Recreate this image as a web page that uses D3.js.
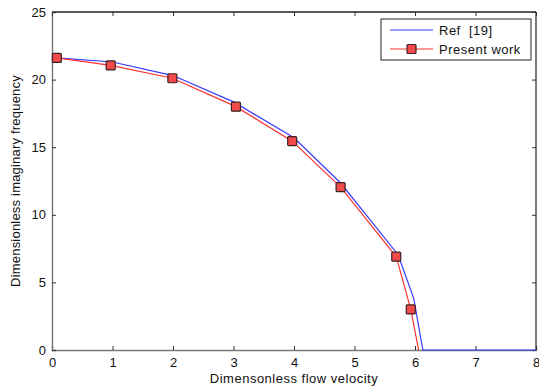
<!DOCTYPE html>
<html>
<head>
<meta charset="utf-8">
<script src="https://cdn.jsdelivr.net/npm/d3@7"></script>
<style>
  body { margin: 0; background: #fff; }
  svg { display: block; font-family: "Liberation Sans", Arial, sans-serif; }
</style>
</head>
<body>
<svg id="chart" width="539" height="389"></svg>
<script>
// Reference curve [19]
const refX = [0.08, 1.0, 2.0, 3.0, 4.0, 4.77, 5.72, 5.98, 6.13, 8.0];
const refY = [21.6, 21.3, 20.3, 18.35, 15.7, 12.35, 7.05, 3.8, 0, 0];

// Present work
const presX = [0.08, 0.97, 1.99, 3.04, 3.97, 4.77, 5.69, 5.93, 6.06];
const presY = [21.6, 21.05, 20.1, 18.0, 15.45, 12.05, 6.9, 3.0, 0];
const presMarked = 8; // markers on the computed points only

const xTicks = [0, 1, 2, 3, 4, 5, 6, 7, 8];
const yTicks = [0, 5, 10, 15, 20, 25];

const svg = d3.select("#chart");
const plotL = 52, plotR = 536, plotT = 12, plotB = 350;
const fs = 13, ls = 0.5;

const x = d3.scaleLinear().domain([0, 8]).range([plotL, plotR]);
const y = d3.scaleLinear().domain([0, 25]).range([plotB, plotT]);

const tickLen = 4;

// Box: top and right borders
svg.append("line").attr("x1", plotL).attr("x2", plotR).attr("y1", plotT).attr("y2", plotT)
  .attr("stroke", "#222").attr("stroke-width", 1.6);
svg.append("line").attr("x1", plotR).attr("x2", plotR).attr("y1", plotT).attr("y2", plotB)
  .attr("stroke", "#222").attr("stroke-width", 1.2);

// Bottom axis (ticks point inward)
const xAxis = d3.axisBottom(x).tickValues(xTicks).tickSize(-tickLen).tickPadding(8).tickFormat(d3.format("d"));
const gx = svg.append("g").attr("transform", `translate(0,${plotB})`).call(xAxis);
gx.select(".domain").attr("stroke", "#777").attr("stroke-width", 1.4);
gx.selectAll(".tick line").attr("stroke", "#333");
gx.selectAll("text").attr("font-size", fs).attr("fill", "#111");

// Left axis
const yAxis = d3.axisLeft(y).tickValues(yTicks).tickSize(-tickLen).tickPadding(6);
const gy = svg.append("g").attr("transform", `translate(${plotL},0)`).call(yAxis);
gy.select(".domain").attr("stroke", "#777").attr("stroke-width", 1.4);
gy.selectAll(".tick line").attr("stroke", "#333");
gy.selectAll("text").attr("font-size", fs).attr("fill", "#111");

// Top and right ticks (inward)
const gt = svg.append("g").attr("transform", `translate(0,${plotT})`)
  .call(d3.axisTop(x).tickValues(xTicks).tickSize(-tickLen).tickFormat(""));
gt.select(".domain").remove();
gt.selectAll(".tick line").attr("stroke", "#333");
const gr = svg.append("g").attr("transform", `translate(${plotR},0)`)
  .call(d3.axisRight(y).tickValues(yTicks).tickSize(-tickLen).tickFormat(""));
gr.select(".domain").remove();
gr.selectAll(".tick line").attr("stroke", "#333");

// Axis titles
svg.append("text").attr("x", (plotL + plotR) / 2).attr("y", 383)
  .attr("text-anchor", "middle").attr("font-size", fs).attr("letter-spacing", ls).attr("fill", "#111")
  .text("Dimensonless flow velocity");
svg.append("text")
  .attr("transform", `translate(20,${(plotT + plotB) / 2}) rotate(-90)`)
  .attr("text-anchor", "middle").attr("font-size", fs).attr("letter-spacing", 0.2).attr("fill", "#111")
  .text("Dimensionless imaginary frequency");

const line = d3.line().x(d => x(d[0])).y(d => y(d[1]));
const refData = refX.map((v, i) => [v, refY[i]]);
const presData = presX.map((v, i) => [v, presY[i]]);

svg.append("path").datum(refData).attr("d", line)
  .attr("fill", "none").attr("stroke", "#3a3aff").attr("stroke-width", 1.2);
svg.append("path").datum(presData).attr("d", line)
  .attr("fill", "none").attr("stroke", "#ff3030").attr("stroke-width", 1.2);

const ms = 9;
svg.append("g").selectAll("rect").data(presData.slice(0, presMarked)).join("rect")
  .attr("x", d => x(d[0]) - ms / 2).attr("y", d => y(d[1]) - ms / 2)
  .attr("width", ms).attr("height", ms).attr("rx", 1)
  .attr("fill", "#f24a4a").attr("stroke", "#3a2020").attr("stroke-width", 1.2);

// Legend
const lg = svg.append("g");
lg.append("rect").attr("x", 381).attr("y", 19).attr("width", 150).attr("height", 41)
  .attr("fill", "#fff").attr("stroke", "#222").attr("stroke-width", 1);
lg.append("line").attr("x1", 390).attr("x2", 433).attr("y1", 30).attr("y2", 30)
  .attr("stroke", "#3a3aff").attr("stroke-width", 1.2);
lg.append("line").attr("x1", 390).attr("x2", 433).attr("y1", 49).attr("y2", 49)
  .attr("stroke", "#ff3030").attr("stroke-width", 1.2);
lg.append("rect").attr("x", 411.5 - ms / 2).attr("y", 49 - ms / 2).attr("width", ms).attr("height", ms)
  .attr("rx", 1).attr("fill", "#f24a4a").attr("stroke", "#3a2020").attr("stroke-width", 1.2);
lg.append("text").attr("x", 439).attr("y", 35).attr("font-size", fs).attr("letter-spacing", ls).attr("fill", "#111")
  .attr("xml:space", "preserve").text("Ref  [19]");
lg.append("text").attr("x", 439).attr("y", 54).attr("font-size", fs).attr("letter-spacing", ls).attr("fill", "#111")
  .text("Present work");
</script>
</body>
</html>
